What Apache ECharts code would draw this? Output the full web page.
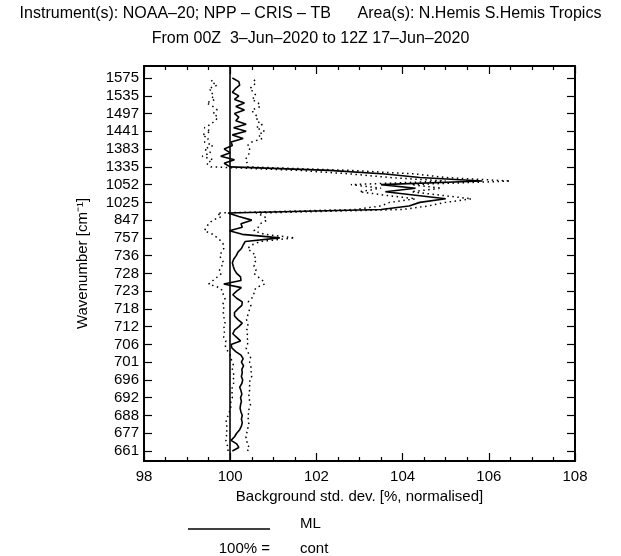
<!DOCTYPE html>
<html>
<head>
<meta charset="utf-8">
<script src="https://cdn.jsdelivr.net/npm/echarts@6/dist/echarts.min.js"></script>
<style>html,body{margin:0;padding:0;background:#fff}#chart{width:621px;height:556px}</style>
</head>
<body>
<div id="chart"></div>
<script>
// Y tick labels (wavenumbers, cm-1), bottom to top; one label every 5 channels
const wavenumberLabels = ['661','677','688','692','696','701','706','712','718','723','728','736','757','847','1025','1052','1335','1383','1441','1497','1535','1575'];
const CHANNELS_PER_LABEL = 5;
const xTicks = [98, 100, 102, 104, 106, 108];

// ML background std. dev. (% normalised), channel order bottom -> top
const mlValues = [
100.05,100.20,100.15,100.02,100.10,100.15,100.22,100.26,100.28,100.26,
100.28,100.25,100.23,100.24,100.26,100.24,100.27,100.25,100.22,100.27,
100.29,100.26,100.28,100.27,100.31,100.26,100.30,100.25,100.13,100.04,
100.02,100.24,100.15,100.06,100.10,100.20,100.28,100.18,100.10,100.10,
100.18,100.27,100.28,100.15,100.06,100.15,100.26,99.85,100.25,100.24,
100.15,100.10,100.07,100.05,100.08,100.14,100.18,100.26,100.30,100.35,
101.15,100.28,99.98,100.28,100.25,100.50,100.20,99.95,103.50,104.15,
104.40,105.00,104.30,103.60,104.30,103.50,105.85,104.40,103.60,102.30,
100.00,99.86,100.10,99.78,100.00,99.86,100.05,100.02,100.30,100.05,
100.37,100.08,100.37,100.13,100.20,100.10,100.33,100.13,100.33,100.10,
100.20,100.05,100.12,100.22,100.20,100.05
];
// upper dotted envelope
const upperValues = [
100.40,100.45,100.38,100.40,100.36,100.38,100.42,100.40,100.44,100.42,
100.40,100.45,100.43,100.47,100.44,100.46,100.42,100.45,100.44,100.47,
100.45,100.50,100.48,100.50,100.47,100.45,100.48,100.45,100.40,100.37,
100.40,100.42,100.38,100.40,100.38,100.42,100.40,100.38,100.40,100.43,
100.45,100.48,100.42,100.50,100.55,100.55,100.60,100.80,100.75,100.65,
100.55,100.60,100.55,100.60,100.55,100.60,100.50,100.40,100.50,100.70,
101.50,100.80,100.55,100.65,100.70,100.85,100.80,100.60,104.00,104.60,
105.00,105.60,104.90,104.20,104.90,104.20,106.50,105.00,104.30,102.80,
100.40,100.40,100.35,100.40,100.45,100.45,100.40,100.50,100.75,100.65,
100.80,100.60,100.75,100.60,100.65,100.55,100.50,100.70,100.65,100.50,
100.60,100.55,100.45,100.55,100.60,100.50
];
// lower dotted envelope
const lowerValues = [
99.95,99.95,99.92,99.90,99.92,99.90,99.93,99.92,99.90,99.92,
99.95,99.98,100.02,100.00,100.02,100.05,100.03,100.06,100.04,100.08,
100.06,100.10,100.07,100.05,100.08,100.05,100.02,100.00,99.95,99.90,
99.88,99.90,99.85,99.85,99.88,99.85,99.88,99.86,99.85,99.84,
99.86,99.82,99.85,99.88,99.84,99.83,99.75,99.50,99.60,99.70,
99.80,99.75,99.80,99.85,99.80,99.75,99.80,99.85,99.85,99.80,
99.70,99.60,99.40,99.45,99.50,99.60,99.80,99.70,102.90,103.50,
103.70,104.30,103.60,103.00,103.50,102.80,105.00,103.70,102.80,101.60,
99.55,99.45,99.60,99.35,99.55,99.40,99.60,99.40,99.50,99.35,
99.55,99.40,99.55,99.65,99.72,99.60,99.70,99.60,99.45,99.65,
99.55,99.60,99.50,99.70,99.55,99.65
];

const FONT = '"Liberation Sans", Arial, sans-serif';
const tickPositions = wavenumberLabels.map((_, i) => i * CHANNELS_PER_LABEL);
const toPairs = arr => arr.map((x, i) => [x, i]);

const chart = echarts.init(document.getElementById('chart'), null, {renderer: 'canvas'});

const xAxisBase = {
  type: 'value', min: xTicks[0], max: xTicks[xTicks.length - 1], interval: 2,
  axisLine: {show: true, onZero: false, lineStyle: {color: '#000', width: 2}},
  axisTick: {show: true, inside: true, length: 8, lineStyle: {color: '#000', width: 1.2}},
  minorTick: {show: true, splitNumber: 4, length: 4, lineStyle: {color: '#000', width: 1.2}},
  splitLine: {show: false}
};
const yAxisBase = {
  type: 'value', min: -2.82, max: 108.4,
  axisLine: {show: true, onZero: false, lineStyle: {color: '#000', width: 2}},
  axisTick: {show: true, inside: true, length: 8, customValues: tickPositions, lineStyle: {color: '#000', width: 1.2}},
  splitLine: {show: false}
};

chart.setOption({
  animation: false,
  backgroundColor: '#fff',
  title: {
    text: 'Instrument(s): NOAA\u201320; NPP \u2013 CRIS \u2013 TB      Area(s): N.Hemis S.Hemis Tropics\nFrom 00Z  3\u2013Jun\u20132020 to 12Z 17\u2013Jun\u20132020',
    left: 'center', top: 0, padding: [1, 5, 5, 5],
    textStyle: {fontFamily: FONT, fontSize: 16, fontWeight: 'normal', color: '#000', lineHeight: 25}
  },
  grid: {left: 144, right: 46, top: 66, bottom: 95},
  xAxis: [
    Object.assign({}, xAxisBase, {
      position: 'bottom',
      name: 'Background std. dev. [%, normalised]', nameLocation: 'middle', nameGap: 24,
      nameTextStyle: {fontFamily: FONT, fontSize: 15, color: '#000', verticalAlign: 'top'},
      axisLabel: {show: true, margin: 8, fontFamily: FONT, fontSize: 15, color: '#000'}
    }),
    Object.assign({}, xAxisBase, {position: 'top', axisLabel: {show: false}})
  ],
  yAxis: [
    Object.assign({}, yAxisBase, {
      position: 'left',
      name: 'Wavenumber [cm\u207B\u00B9]', nameLocation: 'middle', nameGap: 54,
      nameTextStyle: {fontFamily: FONT, fontSize: 15, color: '#000'},
      axisLabel: {show: true, margin: 5, fontFamily: FONT, fontSize: 15, color: '#000',
        customValues: tickPositions,
        formatter: v => wavenumberLabels[Math.round(v / CHANNELS_PER_LABEL)]}
    }),
    Object.assign({}, yAxisBase, {position: 'right', axisLabel: {show: false}})
  ],
  series: [
    {
      name: 'ML', type: 'line', data: toPairs(mlValues), symbol: 'none', z: 5,
      lineStyle: {color: '#000', width: 1.6},
      markLine: {
        silent: true, symbol: 'none', label: {show: false},
        lineStyle: {type: 'solid', color: '#000', width: 1.6},
        data: [{xAxis: 100}]
      }
    },
    {
      name: 'upper', type: 'line', data: toPairs(upperValues), symbol: 'none',
      lineStyle: {color: '#000', width: 1.5, type: [1.5, 3.5]}
    },
    {
      name: 'lower', type: 'line', data: toPairs(lowerValues), symbol: 'none',
      lineStyle: {color: '#000', width: 1.5, type: [1.5, 3.5]}
    }
  ],
  graphic: [
    {type: 'line', shape: {x1: 188, y1: 529, x2: 270, y2: 529}, style: {stroke: '#000', lineWidth: 1.6}},
    {type: 'text', left: 300, top: 516, style: {text: 'ML', font: '15px ' + FONT, fill: '#000'}},
    {type: 'text', right: 621 - 270, top: 541, style: {text: '100% =', font: '15px ' + FONT, fill: '#000', textAlign: 'right'}},
    {type: 'text', left: 300, top: 541, style: {text: 'cont', font: '15px ' + FONT, fill: '#000'}}
  ]
});
</script>
</body>
</html>
